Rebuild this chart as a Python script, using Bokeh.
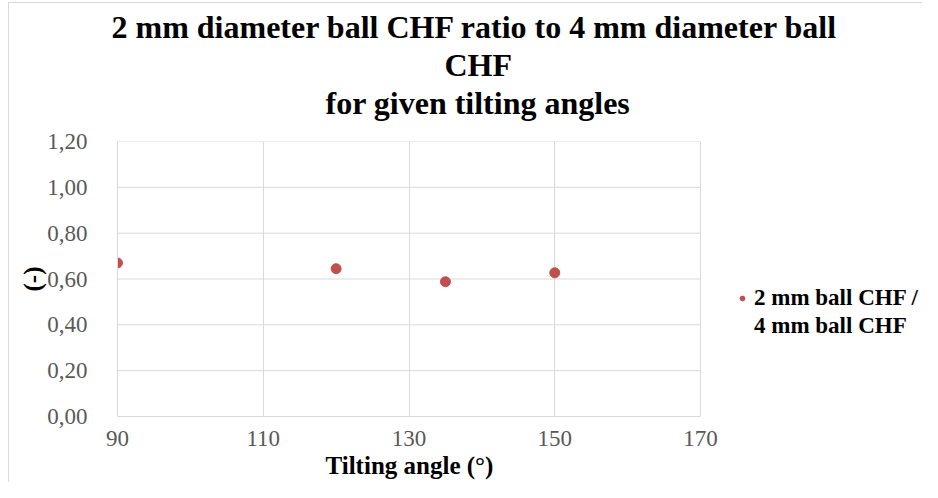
from bokeh.plotting import figure
from bokeh.models import (Title, FixedTicker, CustomJSTickFormatter, Legend, LegendItem,
                          Range1d)
from bokeh.embed import file_html
from bokeh.resources import INLINE

# data
angles = [90, 120, 135, 150]
ratio = [0.67, 0.645, 0.588, 0.627]
x_ticks = [90, 110, 130, 150, 170]
y_ticks = [0.0, 0.2, 0.4, 0.6, 0.8, 1.0, 1.2]
title_lines = ["2 mm diameter ball CHF ratio to 4 mm diameter ball", "CHF", "for given tilting angles"]
title_offsets = [-6, 327, 208]
x_label = "Tilting angle (°)"
y_label = "(-)"
series_label = ["2 mm ball CHF /", "4 mm ball CHF"]

FONT = "Liberation Serif"
GRID = "#D9D9D9"

# plot area spans to the right edge so the legend can sit beside the gridded region
x_lo, x_hi = x_ticks[0], x_ticks[-1]
x_view_end = x_lo + (x_hi - x_lo) * (922 - 117) / 583.0

p = figure(width=922, height=482, output_backend="svg", toolbar_location=None,
           x_range=Range1d(x_lo, x_view_end), y_range=Range1d(y_ticks[0], y_ticks[-1]),
           min_border_left=117, min_border_right=0, min_border_bottom=66, min_border_top=141)
p.border_fill_alpha = 0
p.styles = {"background": "linear-gradient(#D9D9D9,#D9D9D9) 8px 2px / 1px 100% no-repeat, "
                          "linear-gradient(#D9D9D9,#D9D9D9) 8px 2px / 100% 1px no-repeat, white"}
p.outline_line_color = None
p.background_fill_alpha = 0
p.ygrid.visible = False

# horizontal gridlines limited to the x tick span
p.segment(x0=[x_lo] * len(y_ticks), x1=[x_hi] * len(y_ticks), y0=y_ticks, y1=y_ticks,
          line_color=GRID, line_width=1)

r1 = p.scatter(angles, ratio, size=10, color="#C0504D", marker="circle")
r2 = p.scatter([], [], size=10, color="#C0504D", alpha=0)

# spacer between frame and title block
p.add_layout(Title(text=" ", text_font_size="1px", standoff=18), "above")
for t, off in reversed(list(zip(title_lines, title_offsets))):
    ti = Title(text=t, align="left", offset=off, text_font=FONT, text_font_size="32px",
               text_font_style="bold", text_color="black", standoff=0)
    p.add_layout(ti, "above")

for ax in (p.xaxis[0], p.yaxis[0]):
    ax.axis_line_color = GRID
    ax.major_tick_line_color = None
    ax.minor_tick_line_color = None
    ax.major_label_text_font = FONT
    ax.major_label_text_font_size = "23px"
    ax.major_label_text_color = "#595959"
    ax.axis_label_text_font = FONT
    ax.axis_label_text_font_size = "25px"
    ax.axis_label_text_font_style = "bold"
    ax.axis_label_text_color = "black"

p.xaxis.bounds = (x_lo, x_hi)
p.xaxis.ticker = FixedTicker(ticks=x_ticks)
p.yaxis.ticker = FixedTicker(ticks=y_ticks)
p.yaxis.formatter = CustomJSTickFormatter(code="return tick.toFixed(2).replace('.', ',');")
p.xaxis.major_label_standoff = 8
p.yaxis.major_label_standoff = 24
p.yaxis.axis_label = y_label
p.yaxis.axis_label_standoff = -2

# x-axis title centred under the gridded region
p.add_layout(Title(text=x_label, align="left", offset=208, text_font=FONT, text_font_size="25px",
                   text_font_style="bold", text_color="black", standoff=2), "below")

p.xgrid.grid_line_color = GRID
p.xgrid.ticker = FixedTicker(ticks=x_ticks)

legend = Legend(items=[LegendItem(label=series_label[0], renderers=[r1]),
                       LegendItem(label=series_label[1], renderers=[r2])],
                location=(619, 76), border_line_color=None, background_fill_alpha=0,
                label_text_font=FONT, label_text_font_size="23px", label_text_font_style="bold",
                label_text_color="black", glyph_width=12, label_standoff=6, spacing=0,
                padding=0, margin=0, label_height=28)
p.add_layout(legend)

open("out.html", "w").write(file_html(p, INLINE))
